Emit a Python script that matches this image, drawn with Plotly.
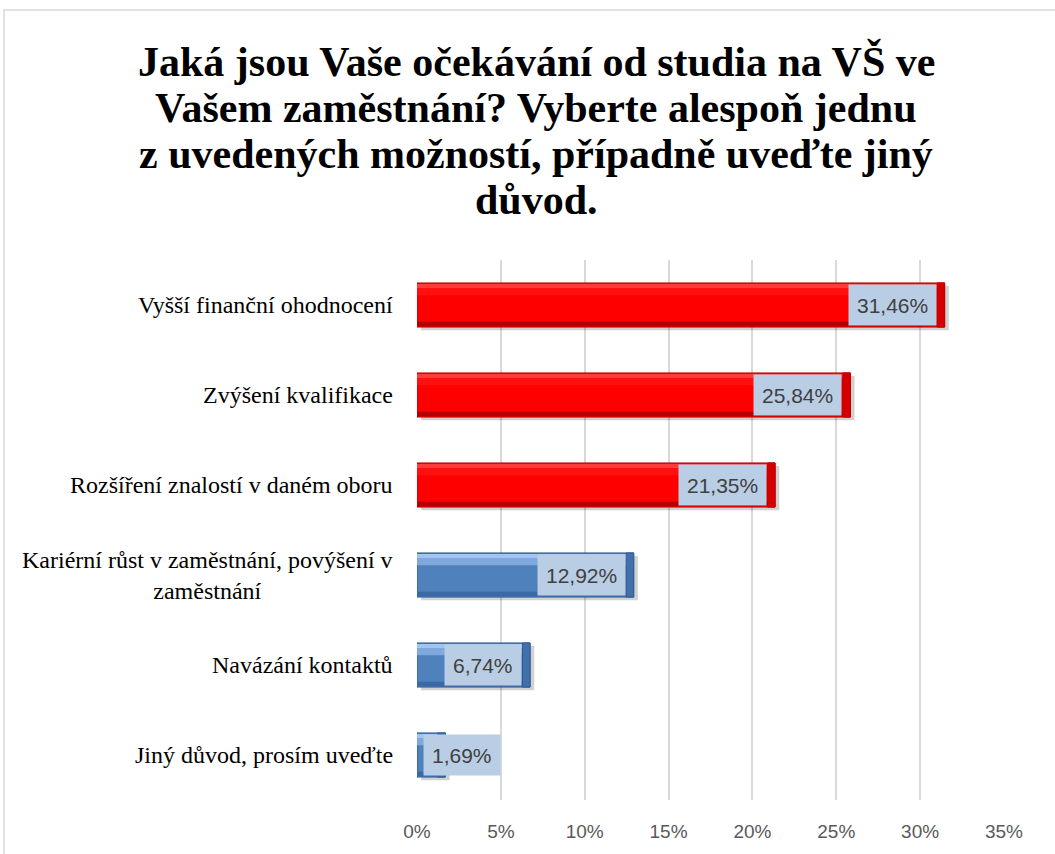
import plotly.graph_objects as go

categories = [
    "Vyšší finanční ohodnocení",
    "Zvýšení kvalifikace",
    "Rozšíření znalostí v daném oboru",
    "Kariérní růst v zaměstnání, povýšení v<br>zaměstnání",
    "Navázání kontaktů",
    "Jiný důvod, prosím uveďte",
]
values = [31.46, 25.84, 21.35, 12.92, 6.74, 1.69]
labels = ["31,46%", "25,84%", "21,35%", "12,92%", "6,74%", "1,69%"]
tick_vals = [0, 5, 10, 15, 20, 25, 30, 35]
tick_text = ["0%", "5%", "10%", "15%", "20%", "25%", "30%", "35%"]

title_lines = [
    "Jaká jsou Vaše očekávání od studia na VŠ ve",
    "Vašem zaměstnání? Vyberte alespoň jednu",
    "z uvedených možností, případně uveďte jiný",
    "důvod.",
]

is_red = [v > 20 for v in values]
main_colors = ["#FF0000" if r else "#4F81BD" for r in is_red]
hi1_colors = ["#FF3C3C" if r else "#A3C4EC" for r in is_red]
hi2_colors = ["#FF1010" if r else "#7FA9DD" for r in is_red]
dark_colors = ["#B00000" if r else "#3A6AA6" for r in is_red]
edge_colors = ["#C00000" if r else "#2F5A8F" for r in is_red]
cap_colors = ["#D40000" if r else "#4270AA" for r in is_red]

W = 0.49
off = -W / 2

fig = go.Figure()


def strip(x, base, width, offset, colors, line=None):
    fig.add_trace(go.Bar(y=categories, x=x, base=base, orientation="h",
                         width=width, offset=offset,
                         marker=dict(color=colors, line=line or dict(width=0)),
                         hoverinfo="skip", showlegend=False))


# shadow
strip(values, 0.25, W, off + 0.035, "rgba(0,0,0,0.18)")
# main body
strip(values, 0, W, off, main_colors, dict(color=edge_colors, width=1))
# top highlight bands
strip(values, 0, 0.045, off + 0.012, hi1_colors)
strip(values, 0, 0.08, off + 0.057, hi2_colors)
# bottom darker band
strip(values, 0, 0.05, off + W - 0.06, dark_colors)
# right end cap (bevel)
strip([0.45] * len(values), [v - 0.45 for v in values], W, off, cap_colors,
      dict(color=edge_colors, width=1))

annotations = []
lab_font = dict(family="Liberation Sans, Arial", size=21, color="#404040")
for c, v, lab in zip(categories, values, labels):
    if v > 5:
        annotations.append(dict(x=v, y=c, xref="x", yref="y", text=lab, showarrow=False,
                                xanchor="right", xshift=-8, bgcolor="#B9CDE5",
                                font=lab_font, borderpad=8, height=24))
    else:
        annotations.append(dict(x=0, y=c, xref="x", yref="y", text=lab, showarrow=False,
                                xanchor="left", xshift=6, bgcolor="#B9CDE5",
                                font=lab_font, borderpad=8, height=24))
    annotations.append(dict(x=0, y=c, xref="x", yref="y", text=c, showarrow=False,
                            xanchor="right", xshift=-22, align="center",
                            font=dict(family="Liberation Serif, Times New Roman", size=24,
                                      color="#000000")))

title_centers = [62, 108, 154, 200]
for line, yc in zip(title_lines, title_centers):
    annotations.append(dict(text="<b>" + line + "</b>", xref="paper", yref="paper",
                            x=(536 - 417) / 587, y=1 + (260 - yc) / 540,
                            xanchor="center", yanchor="middle", showarrow=False,
                            font=dict(family="Liberation Serif, Times New Roman", size=42,
                                      color="#000000")))

fig.update_layout(
    width=1055, height=854,
    paper_bgcolor="white", plot_bgcolor="white",
    barmode="overlay",
    margin=dict(l=417, r=51, t=260, b=54),
    xaxis=dict(range=[0, 35], tickvals=tick_vals, ticktext=tick_text,
               showgrid=True, gridcolor="#D9D9D9", gridwidth=1.5, zeroline=False,
               showline=False, ticks="", ticklabelstandoff=18,
               tickfont=dict(family="Liberation Sans, Arial", size=19, color="#595959")),
    yaxis=dict(autorange="reversed", showticklabels=False, showgrid=False, zeroline=False,
               showline=False, ticks=""),
    annotations=annotations,
    shapes=[dict(type="rect", xref="paper", yref="paper",
                 x0=(4 - 417) / 587, x1=(1070 - 417) / 587,
                 y0=-(870 - 800) / 540, y1=(800 - 10) / 540,
                 line=dict(color="#D9D9D9", width=1.5), fillcolor="rgba(0,0,0,0)",
                 layer="below")],
)

fig.write_html("out.html", config={"displayModeBar": False},
               post_script="document.body.style.margin='0';document.body.style.overflow='hidden';")
